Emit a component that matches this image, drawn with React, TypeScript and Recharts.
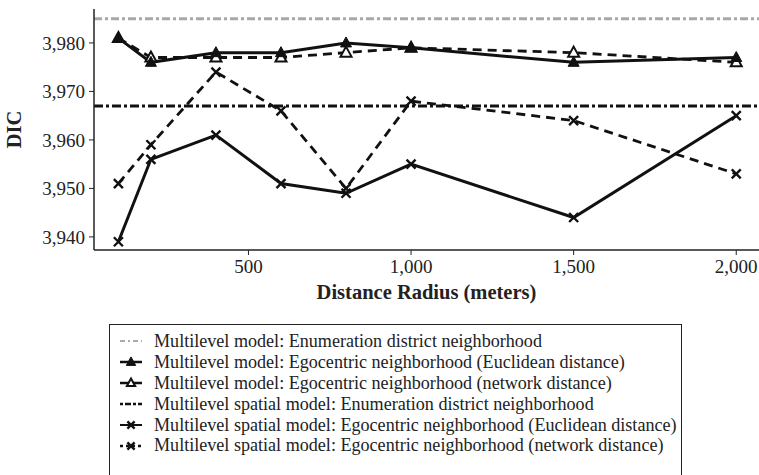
import React from 'react';
import { LineChart, Line, XAxis, YAxis, ReferenceLine, Label } from 'recharts';

const distances = [100, 200, 400, 600, 800, 1000, 1500, 2000];
const mlEuclidean = [3981, 3976, 3978, 3978, 3980, 3979, 3976, 3977];
const mlNetwork = [3981, 3977, 3977, 3977, 3978, 3979, 3978, 3976];
const spatialEuclidean = [3939, 3956, 3961, 3951, 3949, 3955, 3944, 3965];
const spatialNetwork = [3951, 3959, 3974, 3966, 3950, 3968, 3964, 3953];
const mlDistrict = 3985;
const spatialDistrict = 3967;
const yTicks = [3940, 3950, 3960, 3970, 3980];
const xTicks = [500, 1000, 1500, 2000];

const legendLabels = [
    'Multilevel model: Enumeration district neighborhood',
    'Multilevel model: Egocentric neighborhood (Euclidean distance)',
    'Multilevel model: Egocentric neighborhood (network distance)',
    'Multilevel spatial model: Enumeration district neighborhood',
    'Multilevel spatial model: Egocentric neighborhood (Euclidean distance)',
    'Multilevel spatial model: Egocentric neighborhood (network distance)',
];

const data = distances.map((d, i) => ({
    d,
    mlEuclidean: mlEuclidean[i],
    mlNetwork: mlNetwork[i],
    spatialEuclidean: spatialEuclidean[i],
    spatialNetwork: spatialNetwork[i],
}));

const FONT = '"Liberation Serif", "Times New Roman", serif';
const fmt = (v: number) => new Intl.NumberFormat('en').format(v);

function triangle(cx: number, cy: number, filled: boolean, key?: string | number, s = 1) {
    return (
        <path key={key} d={`M${cx},${cy - 6 * s} L${cx + 5.5 * s},${cy + 4 * s} L${cx - 5.5 * s},${cy + 4 * s} Z`}
            fill={filled ? '#111' : '#fff'} stroke="#111" strokeWidth={filled ? 1 : 2} />
    );
}

function cross(cx: number, cy: number, key?: string | number, s = 1) {
    return (
        <path key={key} d={`M${cx - 4.5 * s},${cy - 4.5 * s} L${cx + 4.5 * s},${cy + 4.5 * s} M${cx - 4.5 * s},${cy + 4.5 * s} L${cx + 4.5 * s},${cy - 4.5 * s}`}
            stroke="#111" strokeWidth={2.4} fill="none" />
    );
}

function LegendMark({ index }: { index: number }) {
    const y = 8;
    return (
        <svg width={26} height={16} style={{ flex: 'none' }}>
            {index === 0 && <line x1={2} x2={24} y1={y} y2={y} stroke="#aaa" strokeWidth={2} strokeDasharray="5 3 2 3" />}
            {index === 1 && <><line x1={2} x2={24} y1={y} y2={y} stroke="#111" strokeWidth={2.5} />{triangle(13, y, true, undefined, 0.85)}</>}
            {index === 2 && <><line x1={2} x2={24} y1={y} y2={y} stroke="#111" strokeWidth={2.5} />{triangle(13, y, false, undefined, 0.75)}</>}
            {index === 3 && <line x1={2} x2={24} y1={y} y2={y} stroke="#111" strokeWidth={2.5} strokeDasharray="3 2 6 2" />}
            {index === 4 && <><line x1={2} x2={24} y1={y} y2={y} stroke="#111" strokeWidth={2} />{cross(13, y, undefined, 0.8)}</>}
            {index === 5 && <><line x1={2} x2={24} y1={y} y2={y} stroke="#111" strokeWidth={2.5} strokeDasharray="3 3" />{cross(13, y, undefined, 0.8)}</>}
        </svg>
    );
}

export default function App() {
    return (
        <div style={{ position: 'absolute', left: 0, top: 0, width: 759, height: 475, overflow: 'hidden', background: '#fff', fontFamily: FONT }}>
            <LineChart width={759} height={310} data={data} margin={{ top: 9, right: 0, left: 0, bottom: 0 }}>
                <XAxis xAxisId="top" orientation="top" dataKey="d" type="number" domain={[25, 2070]} allowDataOverflow
                    height={0} tick={false} tickLine={false} axisLine={{ stroke: '#222', strokeWidth: 1.5 }} />
                <XAxis dataKey="d" type="number" domain={[25, 2070]} allowDataOverflow ticks={xTicks} tickFormatter={fmt}
                    height={60} tickSize={5} tickMargin={5}
                    tick={{ fill: '#222', fontSize: 19, fontFamily: FONT }}
                    axisLine={{ stroke: '#222', strokeWidth: 1.5 }} tickLine={{ stroke: '#222' }}>
                    <Label position="insideBottom" offset={11} value="Distance Radius (meters)"
                        style={{ fontSize: 20.5, fontWeight: 'bold', fill: '#222', fontFamily: FONT }} />
                </XAxis>
                <YAxis type="number" domain={[3937.3, 3987]} allowDataOverflow ticks={yTicks} tickFormatter={fmt}
                    width={94} tickSize={5} tickMargin={4}
                    tick={{ fill: '#222', fontSize: 19, fontFamily: FONT }}
                    axisLine={{ stroke: '#222', strokeWidth: 1.5 }} tickLine={{ stroke: '#222' }}>
                    <Label content={(props: any) => {
                        const vb = props.viewBox || { x: 0, y: 9, width: 94, height: 241 };
                        const cy = vb.y + vb.height / 2;
                        return (
                            <text x={21} y={cy} transform={`rotate(-90, 21, ${cy})`} textAnchor="middle"
                                style={{ fontSize: 20.5, fontWeight: 'bold', fill: '#222', fontFamily: FONT }}>DIC</text>
                        );
                    }} />
                </YAxis>
                <ReferenceLine y={mlDistrict} stroke="#a8a8a8" strokeWidth={3} strokeDasharray="8 3 3 3" />
                <ReferenceLine y={spatialDistrict} stroke="#111" strokeWidth={2.8} strokeDasharray="9 3 3 3" />
                <Line dataKey="spatialEuclidean" stroke="#111" strokeWidth={3} isAnimationActive={false}
                    dot={(p: any) => cross(p.cx, p.cy, p.index)} />
                <Line dataKey="spatialNetwork" stroke="#111" strokeWidth={2.8} strokeDasharray="9 6" isAnimationActive={false}
                    dot={(p: any) => cross(p.cx, p.cy, p.index)} />
                <Line dataKey="mlNetwork" stroke="#111" strokeWidth={2.8} strokeDasharray="9 6" isAnimationActive={false}
                    dot={(p: any) => triangle(p.cx, p.cy, false, p.index)} />
                <Line dataKey="mlEuclidean" stroke="#111" strokeWidth={3} isAnimationActive={false}
                    dot={(p: any) => triangle(p.cx, p.cy, true, p.index)} />
            </LineChart>
            <div style={{
                position: 'absolute', left: 109, top: 324, width: 573, height: 180, border: '1.5px solid #222',
                boxSizing: 'border-box', paddingTop: 6, paddingLeft: 8,
            }}>
                {legendLabels.map((label, i) => (
                    <div key={label} style={{ display: 'flex', alignItems: 'center', height: 20.9, fontSize: 18.1, color: '#222', whiteSpace: 'nowrap' }}>
                        <LegendMark index={i} />
                        <span style={{ paddingLeft: 10 }}>{label}</span>
                    </div>
                ))}
            </div>
        </div>
    );
}
